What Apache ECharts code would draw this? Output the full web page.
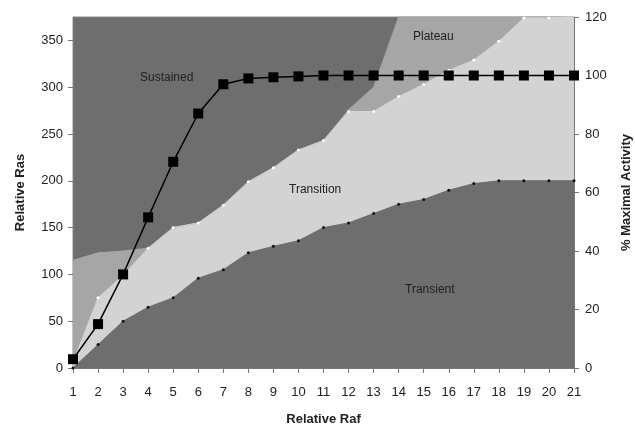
<!DOCTYPE html>
<html>
<head>
<meta charset="utf-8">
<script src="https://cdn.jsdelivr.net/npm/echarts@6/dist/echarts.min.js"></script>
<style>
  html, body { margin: 0; padding: 0; background: #fff; }
  #chart { width: 635px; height: 425px; }
</style>
</head>
<body>
<div id="chart"></div>
<script>
// x categories (Relative Raf)
const categories = ['1', '2', '3', '4', '5', '6', '7', '8', '9', '10', '11', '12', '13', '14', '15', '16', '17', '18', '19', '20', '21']
// upper edge of each zone, read on the left axis (Relative Ras)
const transientTop = [0, 25, 50, 65, 75, 96, 105, 123, 130, 136, 150, 155, 165, 175, 180, 190, 197, 200, 200, 200, 200]
const transitionTop = [6, 75, 99, 128, 150, 155, 174, 199, 214, 233, 243, 274, 274, 290, 303, 318, 329, 349, 374, 374, 376]
const plateauTop = [115, 123, 125, 128, 150, 155, 174, 199, 214, 233, 243, 276, 300, 375, 400, 400, 400, 400, 400, 400, 400]
// % maximal activity (right axis)
const activity = [3, 15, 32, 51.5, 70.5, 87, 97, 99, 99.4, 99.7, 100, 100, 100, 100, 100, 100, 100, 100, 100, 100, 100]
const leftTicks = [0, 50, 100, 150, 200, 250, 300, 350]

const dark = '#6e6e6e'
const mid = '#a6a6a6'
const light = '#d3d3d3'
const font = 'Liberation Sans, Arial, sans-serif'

const chart = echarts.init(document.getElementById('chart'))

function zone(name, data, color, dot) {
  return {
    name: name,
    type: 'line',
    data: data,
    symbol: dot ? 'circle' : 'none',
    symbolSize: 3,
    itemStyle: { color: dot || color },
    lineStyle: { width: 1, color: color },
    areaStyle: { color: color, opacity: 1, origin: 'start' },
    silent: true
  }
}

const option = {
  animation: false,
  textStyle: { fontFamily: font },
  grid: {
    left: 73,
    right: 61,
    top: 17,
    bottom: 57,
    outerBoundsMode: 'none',
    containLabel: false,
    show: true,
    backgroundColor: dark,
    borderColor: '#8a8a8a',
    borderWidth: 1
  },
  xAxis: {
    type: 'category',
    data: categories,
    boundaryGap: false,
    name: 'Relative Raf',
    nameLocation: 'middle',
    nameGap: 45,
    nameTextStyle: { fontSize: 13, fontWeight: 'bold', color: '#222' },
    axisLine: { lineStyle: { color: '#777' } },
    axisTick: { alignWithLabel: true, length: 5, lineStyle: { color: '#777' } },
    axisLabel: { fontSize: 13, color: '#222', margin: 18, interval: 0 },
    splitLine: { show: false }
  },
  yAxis: [
    {
      type: 'value',
      min: 0,
      max: 375,
      interval: 50,
      name: 'Relative Ras',
      nameLocation: 'middle',
      nameRotate: 90,
      nameGap: 46,
      nameTextStyle: { fontSize: 13, fontWeight: 'bold', color: '#222' },
      axisLine: { show: true, lineStyle: { color: '#777' } },
      axisTick: { show: true, length: 5, customValues: leftTicks, lineStyle: { color: '#777' } },
      axisLabel: { fontSize: 13, color: '#222', margin: 10, customValues: leftTicks },
      splitLine: { show: false }
    },
    {
      type: 'value',
      min: 0,
      max: 120,
      interval: 20,
      position: 'right',
      name: '% Maximal Activity',
      nameLocation: 'middle',
      nameRotate: 90,
      nameGap: 46,
      nameTextStyle: { fontSize: 13, fontWeight: 'bold', color: '#222' },
      axisLine: { show: true, lineStyle: { color: '#777' } },
      axisTick: { show: true, length: 5, lineStyle: { color: '#777' } },
      axisLabel: { fontSize: 13, color: '#222', margin: 11 },
      splitLine: { show: false }
    }
  ],
  graphic: [
    { type: 'text', left: 140, top: 72, style: { text: 'Sustained', font: '12px ' + font, fill: '#222' }, z: 100 },
    { type: 'text', left: 413, top: 31, style: { text: 'Plateau', font: '12px ' + font, fill: '#222' }, z: 100 },
    { type: 'text', left: 289, top: 184, style: { text: 'Transition', font: '12px ' + font, fill: '#222' }, z: 100 },
    { type: 'text', left: 405, top: 284, style: { text: 'Transient', font: '12px ' + font, fill: '#222' }, z: 100 }
  ],
  series: [
    zone('Plateau', plateauTop, mid, null),
    zone('Transition', transitionTop, light, '#ffffff'),
    zone('Transient', transientTop, dark, '#111111'),
    {
      name: '% Maximal Activity',
      type: 'line',
      yAxisIndex: 1,
      data: activity,
      symbol: 'rect',
      symbolSize: 10,
      itemStyle: { color: '#000' },
      lineStyle: { width: 1.5, color: '#000' },
      z: 10
    }
  ]
}

chart.setOption(option)
</script>
</body>
</html>
